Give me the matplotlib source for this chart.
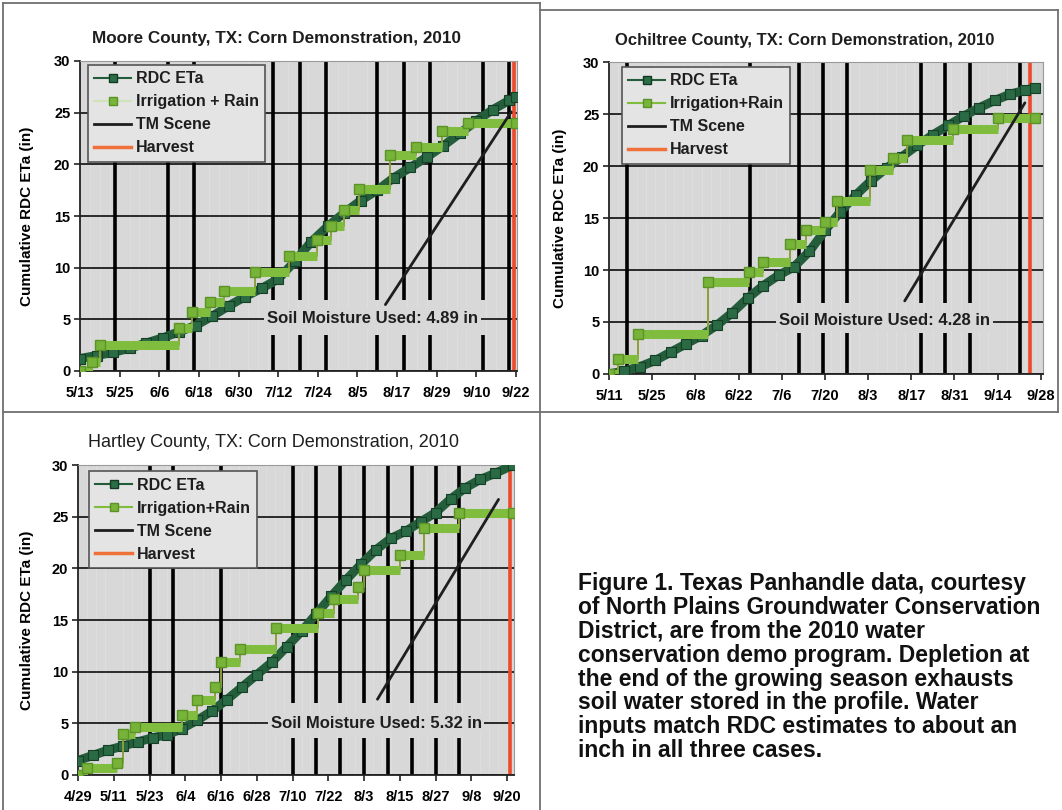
import matplotlib
matplotlib.use("Agg")
import matplotlib.pyplot as plt
from matplotlib.lines import Line2D
from matplotlib.ticker import MultipleLocator
import numpy as np

plt.rcParams['font.family'] = ['Liberation Sans', 'DejaVu Sans']

# ---- Moore County (day 0 = 5/13) ----
moore_days = [0, 5, 10, 15, 20, 25, 30, 35, 40, 45, 50, 55, 60, 65, 70, 75, 80, 85, 90, 95, 100,
              105, 110, 115, 120, 125, 130, 132]
moore_rdc = [1.2, 1.5, 1.8, 2.2, 2.7, 3.2, 3.8, 4.4, 5.3, 6.3, 7.2, 8.0, 8.9, 10.6, 12.5, 14.0, 15.3,
             16.5, 17.5, 18.7, 19.7, 20.7, 21.8, 23.0, 24.2, 25.3, 26.2, 26.5]
moore_irr_days = [0, 3.5, 6, 30, 34, 39.5, 43.5, 53, 63.4, 71.6, 76, 80, 84.6, 94, 101.8, 109.5, 117.5, 132]
moore_irr = [0, 0.9, 2.5, 4.2, 5.7, 6.7, 7.7, 9.6, 11.1, 12.7, 14.0, 15.6, 17.6, 20.9, 21.7, 23.2, 24.0, 24.0]
moore_tm = [10.5, 26.5, 34.5, 58.5, 66.5, 74.5, 90, 98, 106, 122, 130]
moore_harvest = 131.5
moore_ticks = ['5/13', '5/25', '6/6', '6/18', '6/30', '7/12', '7/24', '8/5', '8/17', '8/29', '9/10', '9/22']

# ---- Ochiltree County (day 0 = 5/11) ----
ochil_days = [0, 5, 10, 15, 20, 25, 30, 35, 40, 45, 50, 55, 60, 65, 70, 75, 80, 85, 90, 95, 100,
              105, 110, 115, 120, 125, 130, 135, 138]
ochil_rdc = [0, 0.3, 0.7, 1.3, 2.1, 2.9, 3.7, 4.7, 5.9, 7.3, 8.5, 9.5, 10.3, 11.8, 13.8, 15.6, 17.2,
             18.6, 19.8, 20.9, 22.0, 23.0, 23.9, 24.8, 25.6, 26.3, 26.9, 27.3, 27.5]
ochil_irr_days = [0, 3, 9.5, 32, 45.5, 50, 58.6, 64, 70, 74, 84.5, 92, 96.5, 111.5, 126, 138]
ochil_irr = [0, 1.4, 3.8, 8.8, 9.8, 10.8, 12.5, 13.8, 14.6, 16.6, 19.6, 20.8, 22.5, 23.6, 24.6, 24.6]
ochil_tm = [5.7, 45.7, 61.5, 69.3, 77.2, 101, 109, 117, 133.2]
ochil_harvest = 136.5
ochil_ticks = ['5/11', '5/25', '6/8', '6/22', '7/6', '7/20', '8/3', '8/17', '8/31', '9/14', '9/28']

# ---- Hartley County (day 0 = 4/29) ----
hart_days = [0, 5, 10, 15, 20, 25, 30, 35, 40, 45, 50, 55, 60, 65, 70, 75, 80, 85, 90, 95, 100,
             105, 110, 115, 120, 125, 130, 135, 140, 146]
hart_rdc = [1.4, 1.9, 2.4, 2.8, 3.2, 3.6, 3.9, 4.5, 5.3, 6.2, 7.3, 8.5, 9.7, 10.9, 12.4, 13.9, 15.6,
            17.3, 18.9, 20.4, 21.8, 22.9, 23.6, 24.5, 25.4, 26.7, 27.8, 28.6, 29.2, 30.0]
hart_irr_days = [0, 3, 13, 15, 19, 35, 40, 46, 48, 54.5, 66.5, 80.5, 86, 94, 96, 108, 116, 128, 146]
hart_irr = [0, 0.65, 1.2, 4.0, 4.6, 5.8, 7.3, 8.5, 10.9, 12.2, 14.2, 15.7, 17.0, 18.2, 19.8, 21.3,
            23.9, 25.4, 25.4]
hart_tm = [24, 32, 48, 72, 80, 88, 96, 104, 112, 120, 128]
hart_harvest = 145
hart_ticks = ['4/29', '5/11', '5/23', '6/4', '6/16', '6/28', '7/10', '7/22', '8/3', '8/15', '8/27',
              '9/8', '9/20']

caption = ("Figure 1. Texas Panhandle data, courtesy\n"
           "of North Plains Groundwater Conservation\n"
           "District, are from the 2010 water\n"
           "conservation demo program. Depletion at\n"
           "the end of the growing season exhausts\n"
           "soil water stored in the profile. Water\n"
           "inputs match RDC estimates to about an\n"
           "inch in all three cases.")

BG = '#d8d8d8'
DARK = '#235d3a'
LIGHT = '#80bd3e'
RED = '#ec4a2a'

W, H = 1062, 810
fig = plt.figure(figsize=(W / 100, H / 100), dpi=100)
fig.patch.set_facecolor('white')


def rect(l, t, r, b):
    return [l / W, 1 - b / H, (r - l) / W, (b - t) / H]


def fline(xs, ys):
    fig.add_artist(Line2D([x / W for x in xs], [1 - y / H for y in ys], color='#707070', lw=1.3))


def panel(ax, days, rdc, irr_d, irr_v, tm, harvest, xmax, step, ticks, gap, note, note_xy,
          arrow, leg_anchor, irr_label, irr_line):
    ax.set_facecolor(BG)
    ax.set_xlim(0, xmax)
    ax.set_ylim(0, 30)
    ax.set_xticks(np.arange(len(ticks)) * step)
    ax.set_xticklabels(ticks)
    ax.set_yticks(range(0, 31, 5))
    ax.xaxis.set_minor_locator(MultipleLocator(3))
    ax.grid(axis='x', which='minor', color='#e0e0e0', lw=0.6, zorder=0)
    ax.grid(axis='y', which='major', color='#2a2a2a', lw=1.4, zorder=1)
    ax.set_axisbelow(True)
    ax.tick_params(axis='x', which='minor', length=0)
    ax.tick_params(axis='both', which='major', length=4, width=1.2, color='#222222',
                   labelsize=10.5, pad=3)
    ax.tick_params(axis='x', which='major', pad=7)
    for lab in ax.get_xticklabels() + ax.get_yticklabels():
        lab.set_fontweight('bold')
    for s in ['left', 'bottom']:
        ax.spines[s].set_color('#222222')
        ax.spines[s].set_linewidth(1.3)
    for s in ['top', 'right']:
        ax.spines[s].set_color('#9a9a9a')
    ax.set_ylabel('Cumulative RDC ETa (in)', fontsize=11, fontweight='bold')

    gx0, gx1, gy0, gy1 = gap
    for d in tm:
        if gx0 <= d <= gx1:
            ax.vlines(d, 0, gy0, color='black', lw=2.6, zorder=2)
            ax.vlines(d, gy1, 30, color='black', lw=2.6, zorder=2)
        else:
            ax.vlines(d, 0, 30, color='black', lw=2.6, zorder=2)
    ax.axvline(harvest, color=RED, lw=2.6, zorder=2)

    ax.plot(days, rdc, color=DARK, lw=6.5, zorder=3, solid_capstyle='butt')
    ax.plot(days, rdc, ls='none', marker='s', ms=7.5, mfc='#2a6a44', mec='#163f27', mew=0.8,
            zorder=3)

    ax.step(irr_d, irr_v, where='post', color='#8c9e3a', lw=1.4, zorder=4)
    ax.hlines(irr_v[:-1], irr_d[:-1], irr_d[1:], color=LIGHT, lw=6.5, zorder=4)
    ax.plot(irr_d, irr_v, ls='none', marker='s', ms=7, mfc='#76b338', mec='#5c9328', zorder=4)

    ax.text(note_xy[0], note_xy[1], note, fontsize=12, fontweight='bold', ha='center', va='center',
            color='#1e1e1e', zorder=5, bbox=dict(facecolor=BG, edgecolor='none', pad=2))
    ax.annotate('', xy=arrow[1], xytext=arrow[0],
                arrowprops=dict(arrowstyle='-', color='#1e1e1e', lw=2), zorder=6)

    handles = [
        Line2D([], [], color=DARK, lw=1.5, marker='s', ms=6, mfc='#2c6e47', mec='#123a22'),
        Line2D([], [], color=LIGHT if irr_line else '#cfe3b8', lw=1.5, marker='s', ms=6,
               mfc='#78b53a', mec='#5c9328'),
        Line2D([], [], color='#1e1e1e', lw=2),
        Line2D([], [], color='#f0703a', lw=2.5),
    ]
    leg = ax.legend(handles, ['RDC ETa', irr_label, 'TM Scene', 'Harvest'], loc='upper left',
                    bbox_to_anchor=leg_anchor, borderaxespad=0, fancybox=False,
                    facecolor='#e4e4e4', edgecolor='#555555', framealpha=1,
                    prop={'family': ['Liberation Sans'], 'weight': 'bold', 'size': 11.5},
                    handlelength=2.3, handletextpad=0.3, labelspacing=0.5, borderpad=0.4)
    for t in leg.get_texts():
        t.set_color('#1e1e1e')
    leg.get_frame().set_linewidth(1.2)
    leg.set_zorder(7)


ax1 = fig.add_axes(rect(80, 61, 517, 371))
panel(ax1, moore_days, moore_rdc, moore_irr_days, moore_irr, moore_tm, moore_harvest,
      132.3, 12, moore_ticks, (55, 128.5, 3.5, 6.9), 'Soil Moisture Used: 4.89 in',
      (88.5, 5.1), ((92, 6.2), (131, 25.3)), (0.018, 0.987), 'Irrigation + Rain', False)
ax1.yaxis.set_label_coords(-0.105, 0.5)

ax2 = fig.add_axes(rect(609, 62, 1043, 374))
panel(ax2, ochil_days, ochil_rdc, ochil_irr_days, ochil_irr, ochil_tm, ochil_harvest,
      140.7, 14, ochil_ticks, (48, 132, 3.9, 6.8), 'Soil Moisture Used: 4.28 in',
      (89.4, 5.1), ((95.4, 6.8), (135.3, 26.3)), (0.03, 0.984), 'Irrigation+Rain', True)
ax2.yaxis.set_label_coords(-0.097, 0.5)

ax3 = fig.add_axes(rect(78, 465, 514, 775))
panel(ax3, hart_days, hart_rdc, hart_irr_days, hart_irr, hart_tm, hart_harvest,
      146.3, 12, hart_ticks, (59, 142.6, 3.6, 7.0), 'Soil Moisture Used: 5.32 in',
      (100, 5.0), ((100, 7.1), (141.6, 26.9)), (0.025, 0.98), 'Irrigation+Rain', True)
ax3.yaxis.set_label_coords(-0.10, 0.5)

fig.text(277 / W, 1 - 39 / H, 'Moore County, TX: Corn Demonstration, 2010', ha='center',
         va='center', fontsize=12.3, fontweight='bold', color='#1e1e1e')
fig.text(805 / W, 1 - 41 / H, 'Ochiltree County, TX: Corn Demonstration, 2010', ha='center',
         va='center', fontsize=12, fontweight='bold', color='#1e1e1e')
fig.text(274 / W, 1 - 442 / H, 'Hartley County, TX: Corn Demonstration, 2010', ha='center',
         va='center', fontsize=13, color='#1e1e1e')

fig.text(578 / W, 1 - 572 / H, caption, ha='left', va='top', fontsize=16.5, fontweight='bold',
         linespacing=1.05, color='#111111')

# panel frames
fline([3, 540], [3, 3])
fline([540, 1058], [10, 10])
fline([3, 1058], [412, 412])
fline([3, 3], [3, 810])
fline([540, 540], [3, 810])
fline([1058, 1058], [10, 412])

fig.savefig('out.png', dpi=100)
